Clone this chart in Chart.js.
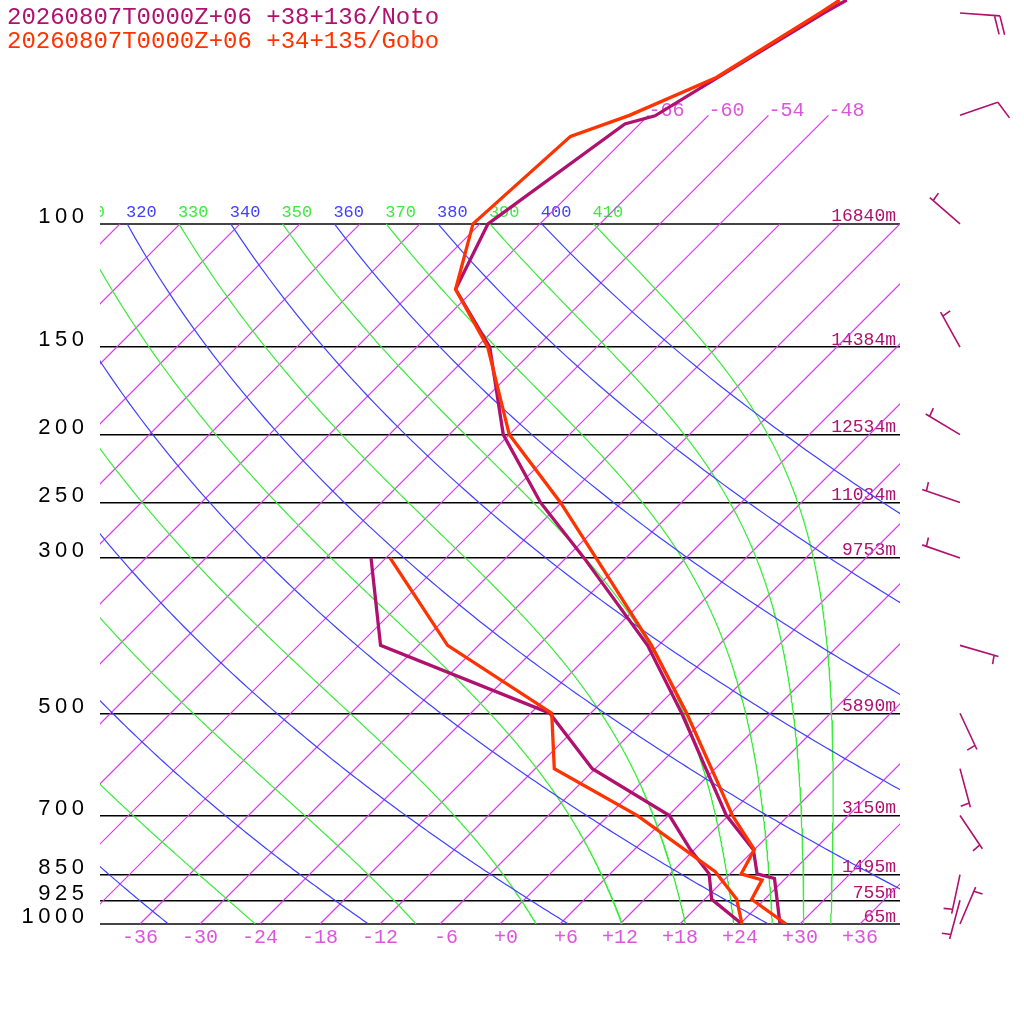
<!DOCTYPE html>
<html>
<head>
<meta charset="utf-8">
<title>Skew-T Noto / Gobo</title>
<script src="https://cdn.jsdelivr.net/npm/chart.js@4.4.1/dist/chart.umd.min.js"></script>
<style>
  body { margin: 0; background: #fff; }
  #wrap { position: relative; width: 1024px; height: 1024px; }
  #skewt { position: absolute; left: 0; top: 0; }
  .hdr { position: absolute; left: 7px; font: 24px/24px "Liberation Mono", monospace; white-space: pre; }
</style>
</head>
<body>
<div id="wrap">
  <canvas id="skewt" width="1024" height="1024"></canvas>
  <div class="hdr" id="hdr1" style="top:6px"></div>
  <div class="hdr" id="hdr2" style="top:30px"></div>
</div>
<script>
// station headers
const stationNames = ["20260807T0000Z+06 +38+136/Noto", "20260807T0000Z+06 +34+135/Gobo"];

// Noto sounding (hPa / degC)
const notoTempP = [47.9, 50, 62, 70.1, 72, 100, 124, 150, 200, 250, 300, 400, 500, 700, 783, 848, 861, 1000];
const notoTemp  = [-57.7, -58.7, -62.9, -65.3, -67.5, -71.2, -67.9, -58.7, -48.6, -38.1, -28.2, -13.1, -2.9, 11.8, 17.9, 20.7, 22.9, 28.0];
const notoDewP  = [300, 400, 500, 600, 700, 783, 848, 922, 1000];
const notoDew   = [-49.5, -39.8, -16.1, -6.3, 6.1, 11.6, 15.9, 18.7, 24.2];

// Gobo sounding (hPa / degC)
const goboTempP = [47.9, 50, 61.8, 70, 75, 100, 124, 150, 200, 250, 300, 400, 500, 700, 783, 848, 865, 922, 1000];
const goboTemp  = [-58.4, -59.1, -63.0, -67.9, -71.7, -72.7, -67.9, -58.9, -48.0, -36.1, -27.0, -12.7, -2.4, 12.4, 18.0, 19.1, 21.8, 22.7, 28.6];
const goboDewP  = [300, 400, 500, 600, 700, 842, 922, 1000];
const goboDew   = [-47.6, -33.1, -15.9, -10.1, 2.9, 16.3, 21.2, 24.2];

// heights of the pressure levels (Noto)
const pressureTicks = [100, 150, 200, 250, 300, 500, 700, 850, 925, 1000];
const heightLabels  = ["16840m", "14384m", "12534m", "11034m", "9753m", "5890m", "3150m", "1495m", "755m", "65m"];

// winds (Noto)
const windP   = [50, 70, 100, 150, 200, 250, 300, 400, 500, 600, 700, 850, 925, 1000];
const windDir = [94, 71, 311, 331, 301, 289, 289, 106, 155, 165, 146, 192, 195, 23];
const windKt  = [20, 10, 5, 5, 5, 5, 5, 5, 5, 5, 5, 5, 5, 5];

// diagram background
const tempTicks = [-36, -30, -24, -18, -12, -6, 0, 6, 12, 18, 24, 30, 36];
const isotherms = [-108, -102, -96, -90, -84, -78, -72, -66, -60, -54, -48, -42, -36, -30, -24, -18, -12, -6, 0, 6, 12, 18, 24, 30, 36];
const labelledIsotherms = [-66, -60, -54, -48];
const dryAdiabats   = [240, 260, 280, 300, 320, 340, 360, 380, 400];
const moistAdiabats = [250, 270, 290, 310, 330, 350, 370, 390, 410];

const C = {
  noto: '#b0106e', gobo: '#ff3300',
  iso: '#d63ce8', isoText: '#dd55dd',
  dry: '#4040ff', moist: '#3cea3c'
};

document.getElementById("hdr1").textContent = stationNames[0];
document.getElementById("hdr1").style.color = C.noto;
document.getElementById("hdr2").textContent = stationNames[1];
document.getElementById("hdr2").style.color = C.gobo;

const SKEW = 70;      // x units per decade of pressure
const P_TOP = 47.9;   // pressure at the top edge
const Rd = 287.04, CP = 1005.7, LV = 2.501e6, EPS = 0.622, KAPPA = Rd / CP;

const skew = (t, p) => t + SKEW * Math.log10(1000 / p);
const profile = (ps, ts) => ps.map((p, i) => ({ x: skew(ts[i], p), y: p }));

function satMix(T, p) {
    const es = 6.112 * Math.exp(17.67 * (T - 273.15) / (T - 29.65));
    return EPS * es / (p - es);
}
function moistLapse(T, p) {
    const rs = satMix(T, p);
    return (Rd * T + LV * rs) / (CP + LV * LV * rs * EPS / (Rd * T * T)) / p;
}
function dryCurve(theta) {
    const pts = [];
    for (let p = 100; p <= 1000; p += 5) {
        pts.push({ x: skew(theta * Math.pow(p / 1000, KAPPA) - 273.15, p), y: p });
    }
    return pts;
}
function moistCurve(theta) {
    let p = 100, T = theta * Math.pow(0.1, KAPPA);
    const dp = 2;
    const pts = [{ x: skew(T - 273.15, p), y: p }];
    while (p < 1000) {
        const k1 = moistLapse(T, p);
        const k2 = moistLapse(T + k1 * dp / 2, p + dp / 2);
        const k3 = moistLapse(T + k2 * dp / 2, p + dp / 2);
        const k4 = moistLapse(T + k3 * dp, p + dp);
        T += dp * (k1 + 2 * k2 + 2 * k3 + k4) / 6;
        p += dp;
        pts.push({ x: skew(T - 273.15, p), y: p });
    }
    return pts;
}

const line = (data, color, width, order) => ({
    data, borderColor: color, borderWidth: width, showLine: true,
    pointRadius: 0, fill: false, order
});

const datasets = [];
isotherms.forEach(t => {
    const top = labelledIsotherms.includes(t) ? 70 : 100;
    datasets.push(line([{ x: skew(t, 1000), y: 1000 }, { x: skew(t, top), y: top }], C.iso, 1.2, 10));
});
dryAdiabats.forEach(th => datasets.push(line(dryCurve(th), C.dry, 1.2, 9)));
moistAdiabats.forEach(th => datasets.push(line(moistCurve(th), C.moist, 1.2, 9)));
datasets.push(line(profile(notoDewP, notoDew), C.noto, 3.3, 3));
datasets.push(line(profile(notoTempP, notoTemp), C.noto, 3.3, 3));
datasets.push(line(profile(goboDewP, goboDew), C.gobo, 3.3, 2));
datasets.push(line(profile(goboTempP, goboTemp), C.gobo, 3.3, 2));

const overlay = {
    id: 'overlay',
    beforeDatasetsDraw(chart) {
        const { ctx, chartArea: a, scales: { x, y } } = chart;
        ctx.save();
        ctx.beginPath();
        ctx.rect(a.left, 0, a.right - a.left, a.bottom);
        ctx.clip();
        // adiabat labels along 100 hPa
        ctx.font = '17px "Liberation Mono", monospace';
        ctx.textAlign = 'left';
        ctx.textBaseline = 'alphabetic';
        const y100 = y.getPixelForValue(100);
        const label = (list, color) => list.forEach(th => {
            ctx.fillStyle = color;
            const px = x.getPixelForValue(skew(th * Math.pow(0.1, KAPPA) - 273.15, 100));
            ctx.fillText(String(th), px - 1, y100 - 6.5);
        });
        label(dryAdiabats, C.dry);
        label(moistAdiabats, C.moist);
        ctx.restore();

        ctx.save();
        // pressure labels (spaced out like the original)
        ctx.font = '22px "Liberation Sans", sans-serif';
        ctx.letterSpacing = '4.5px';
        ctx.fillStyle = '#000';
        ctx.textAlign = 'right';
        ctx.textBaseline = 'alphabetic';
        pressureTicks.forEach(p => ctx.fillText(String(p), a.left - 11.5, y.getPixelForValue(p) - 0.7));
        ctx.letterSpacing = '0px';
        // isotherm labels
        ctx.font = '20px "Liberation Mono", monospace';
        ctx.fillStyle = C.isoText;
        ctx.textAlign = 'left';
        labelledIsotherms.forEach(t => {
            ctx.fillText(String(t), x.getPixelForValue(skew(t, 70)), y.getPixelForValue(70) + 1);
        });
        // heights
        ctx.font = '18px "Liberation Mono", monospace';
        ctx.fillStyle = C.noto;
        ctx.textAlign = 'right';
        pressureTicks.forEach((p, i) => {
            ctx.fillText(heightLabels[i], a.right - 4, y.getPixelForValue(p) - 2.5);
        });
        ctx.restore();
    },
    afterDatasetsDraw(chart) {
        const { ctx, scales: { y } } = chart;
        const baseX = 960, staff = 40;
        ctx.save();
        ctx.strokeStyle = C.noto;
        ctx.lineWidth = 1.6;
        windP.forEach((p, i) => {
            const r = windDir[i] * Math.PI / 180;
            const d = { x: Math.sin(r), y: -Math.cos(r) };
            const n = { x: -d.y, y: d.x };
            const bx = baseX, by = y.getPixelForValue(p);
            const tx = bx + d.x * staff, ty = by + d.y * staff;
            ctx.beginPath();
            ctx.moveTo(bx, by);
            ctx.lineTo(tx, ty);
            let kt = windKt[i], pos = 0;
            while (kt >= 10) {
                const px = tx - d.x * pos, py = ty - d.y * pos;
                ctx.moveTo(px, py);
                ctx.lineTo(px + n.x * 18.5 + d.x * 6, py + n.y * 18.5 + d.y * 6);
                kt -= 10; pos += 5.5;
            }
            if (kt >= 5) {
                if (pos === 0) pos = 4.5;
                const px = tx - d.x * pos, py = ty - d.y * pos;
                ctx.moveTo(px, py);
                ctx.lineTo(px + n.x * 9 + d.x, py + n.y * 9 + d.y);
            }
            ctx.stroke();
        });
        ctx.restore();
    }
};

const noPad = s => { s.paddingTop = 0; s.paddingBottom = 0; s.paddingLeft = 0; s.paddingRight = 0; };

new Chart(document.getElementById("skewt"), {
    type: 'scatter',
    data: { datasets },
    plugins: [overlay],
    options: {
        responsive: false,
        animation: false,
        events: [],
        layout: { padding: { left: 0, top: 0, right: 124, bottom: 0 } },
        plugins: { legend: { display: false }, tooltip: { enabled: false } },
        scales: {
            x: {
                type: 'linear', position: 'bottom', min: -40, max: 40, bounds: 'data',
                afterFit: s => { s.height = 100; noPad(s); },
                afterBuildTicks: s => { s.ticks = tempTicks.map(v => ({ value: v })); },
                grid: { display: false, drawTicks: false },
                border: { display: false },
                ticks: {
                    autoSkip: false, maxRotation: 0, minRotation: 0, padding: 2,
                    color: C.isoText, font: { family: 'Liberation Mono', size: 20 },
                    callback: v => ((v >= 0 ? '+' : '-') + Math.abs(v)).padStart(3, ' ')
                }
            },
            y: {
                type: 'logarithmic', position: 'left', reverse: true, min: P_TOP, max: 1000, bounds: 'data',
                afterFit: s => { s.width = 100; noPad(s); },
                afterBuildTicks: s => { s.ticks = pressureTicks.map(v => ({ value: v })); },
                grid: {
                    drawTicks: false,
                    color: c => (c.tick && (c.tick.value === 100 || c.tick.value === 1000)) ? '#444' : '#000',
                    lineWidth: c => (c.tick && (c.tick.value === 100 || c.tick.value === 1000)) ? 2 : 1.4
                },
                border: { display: false },
                ticks: { display: false, autoSkip: false }
            }
        }
    }
});
</script>
</body>
</html>
